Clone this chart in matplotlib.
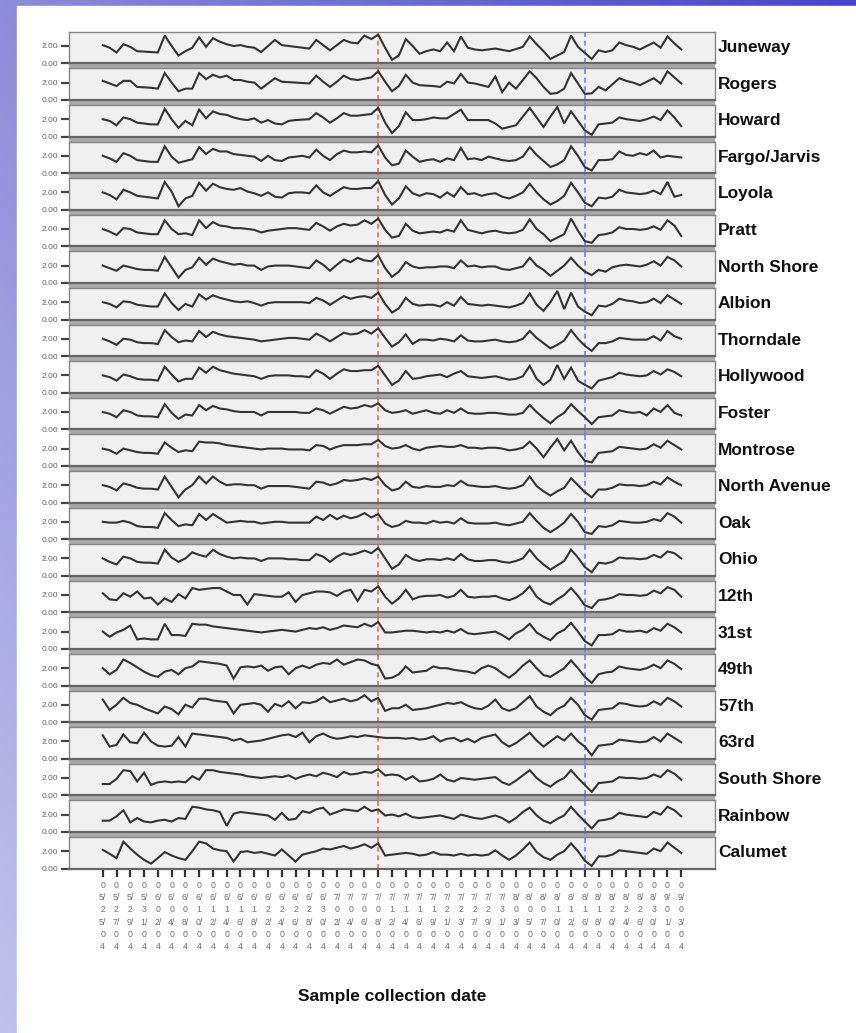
import numpy as np
import matplotlib
matplotlib.use("Agg")
import matplotlib.pyplot as plt
from matplotlib.patches import Rectangle

# ---------------- data ----------------
tick_dates = ["05/25/04", "05/27/04", "05/29/04", "05/31/04", "06/02/04", "06/04/04",
              "06/08/04", "06/10/04", "06/12/04", "06/14/04", "06/16/04", "06/18/04",
              "06/22/04", "06/24/04", "06/26/04", "06/28/04", "06/30/04", "07/02/04",
              "07/04/04", "07/06/04", "07/08/04", "07/12/04", "07/14/04", "07/16/04",
              "07/19/04", "07/21/04", "07/23/04", "07/27/04", "07/29/04", "07/31/04",
              "08/03/04", "08/05/04", "08/07/04", "08/10/04", "08/12/04", "08/16/04",
              "08/18/04", "08/20/04", "08/24/04", "08/26/04", "08/30/04", "09/01/04",
              "09/03/04"]
red_event_sample = 40
blue_event_sample = 70

stations = ["Juneway", "Rogers", "Howard", "Fargo/Jarvis", "Loyola", "Pratt",
            "North Shore", "Albion", "Thorndale", "Hollywood", "Foster", "Montrose",
            "North Avenue", "Oak", "Ohio", "12th", "31st", "49th", "57th", "63rd",
            "South Shore", "Rainbow", "Calumet"]

juneway = [2.1, 1.8, 1.25, 2.2, 1.9, 1.4, 1.35, 1.3, 1.25, 3.2, 2.0, 0.9, 1.4, 1.8, 3.0, 1.9, 2.9,
           2.5, 2.2, 2.0, 2.1, 1.9, 1.8, 1.3, 2.0, 2.7, 2.1, 2.0, 1.9, 1.8, 1.7, 2.7, 2.1, 1.5,
           2.1, 2.7, 2.4, 2.3, 3.2, 2.8, 3.3, 1.8, 0.4, 0.9, 2.8, 2.0, 1.1, 1.4, 1.6, 1.4, 2.4,
           1.4, 3.1, 1.8, 1.6, 1.5, 1.6, 1.7, 1.55, 1.4, 1.65, 1.9, 3.1, 2.2, 1.4, 0.5, 0.9, 1.3,
           3.2, 1.9, 1.2, 0.5, 1.5, 1.3, 1.5, 2.4, 2.1, 1.9, 1.6, 2.0, 2.4, 1.8, 3.1, 2.3, 1.6]
rogers = [2.2, 1.9, 1.6, 2.2, 2.2, 1.5, 1.45, 1.4, 1.3, 3.1, 2.0, 1.0, 1.3, 1.3, 3.1, 2.4, 2.9,
          2.6, 2.8, 2.3, 2.3, 2.1, 2.0, 1.3, 1.9, 2.5, 2.1, 2.05, 2.0, 1.95, 1.9, 2.8, 2.1, 1.5,
          2.1, 2.8, 2.4, 2.3, 2.45, 2.6, 3.3, 2.1, 1.0, 1.6, 2.9, 2.0, 1.7, 1.65, 1.6, 1.5, 2.1,
          1.9, 3.0, 2.0, 1.9, 1.7, 1.5, 2.7, 0.9, 2.0, 1.3, 2.3, 3.3, 2.5, 1.5, 0.7, 0.8, 1.3,
          3.1, 1.9, 0.7, 0.75, 1.5, 1.1, 1.8, 2.5, 2.2, 2.0, 1.7, 2.1, 2.5, 1.9, 3.3, 2.6, 1.9]
howard = [2.0, 1.8, 1.3, 2.2, 2.0, 1.6, 1.5, 1.4, 1.4, 3.2, 2.0, 1.0, 1.8, 1.3, 3.1, 2.1, 2.9,
          2.6, 2.5, 2.2, 2.0, 1.9, 2.1, 1.6, 1.9, 1.5, 1.4, 1.8, 1.9, 1.95, 2.0, 2.7, 2.2, 1.6,
          2.1, 2.7, 2.4, 2.4, 2.5, 2.6, 3.3, 1.6, 0.4, 1.2, 2.8, 1.9, 1.9, 2.0, 2.2, 2.1, 2.1,
          2.6, 3.1, 1.9, 1.9, 1.9, 1.9, 1.5, 0.9, 1.1, 1.3, 2.3, 3.3, 2.2, 1.1, 2.3, 3.4, 1.5,
          2.9, 1.8, 0.7, 0.2, 1.4, 1.5, 1.6, 2.2, 2.0, 1.9, 1.8, 2.0, 2.3, 1.9, 3.0, 2.2, 1.2]
fargo_jarvis = [2.0, 1.7, 1.3, 2.3, 2.0, 1.5, 1.4, 1.3, 1.3, 3.1, 1.9, 1.2, 1.4, 1.6, 3.0, 2.2, 2.8,
                2.5, 2.5, 2.2, 2.1, 2.0, 1.9, 1.4, 2.0, 1.5, 1.4, 1.8, 1.9, 2.0, 1.8, 2.7, 2.0, 1.5,
                2.2, 2.6, 2.4, 2.4, 2.5, 2.4, 3.2, 1.8, 0.9, 1.1, 2.6, 1.9, 1.3, 1.5, 1.6, 1.3, 1.7,
                1.5, 2.9, 1.6, 1.7, 1.5, 1.9, 1.7, 1.5, 1.4, 1.5, 1.9, 3.0, 2.1, 1.4, 0.7, 1.0, 1.5,
                3.1, 2.0, 0.7, 0.3, 1.5, 1.5, 1.6, 2.5, 2.1, 2.0, 2.3, 2.1, 2.6, 1.8, 2.0, 1.9, 1.8]
loyola = [2.0, 1.7, 1.2, 2.3, 2.0, 1.6, 1.5, 1.4, 1.3, 3.2, 2.1, 0.4, 1.3, 1.6, 3.1, 2.2, 3.0,
          2.6, 2.4, 2.3, 2.5, 2.1, 1.9, 1.6, 2.0, 1.5, 1.4, 1.9, 2.0, 2.0, 1.9, 2.8, 2.0, 1.6,
          2.1, 2.6, 2.4, 2.4, 2.5, 2.5, 3.3, 1.7, 0.6, 1.3, 2.7, 1.9, 1.6, 1.9, 1.8, 1.4, 2.0,
          1.5, 2.6, 1.8, 1.9, 1.6, 1.8, 1.9, 1.5, 1.3, 1.6, 2.0, 3.0, 2.0, 1.2, 0.6, 1.0, 1.6,
          3.1, 2.0, 0.8, 0.4, 1.4, 1.3, 1.5, 2.3, 2.0, 1.9, 1.8, 1.9, 2.2, 1.8, 3.2, 1.5, 1.7]
pratt = [2.0, 1.7, 1.3, 2.1, 2.0, 1.6, 1.5, 1.4, 1.4, 3.0, 2.0, 1.4, 1.5, 1.3, 3.0, 2.1, 2.8,
         2.4, 2.3, 2.1, 2.1, 2.0, 1.9, 1.6, 1.8, 1.9, 2.0, 2.1, 2.1, 2.0, 1.9, 2.7, 2.3, 1.8,
         2.3, 2.6, 2.4, 2.5, 3.0, 2.6, 3.2, 1.9, 1.0, 1.2, 2.6, 1.8, 1.5, 1.6, 1.7, 1.6, 1.9,
         1.7, 3.0, 1.9, 1.7, 1.5, 1.7, 1.8, 1.6, 1.5, 1.6, 1.9, 3.1, 2.0, 1.4, 0.6, 1.0, 1.4,
         3.2, 1.8, 0.6, 0.4, 1.3, 1.4, 1.6, 2.2, 2.0, 2.0, 1.9, 2.0, 2.3, 1.9, 3.0, 2.4, 1.2]
north_shore = [2.0, 1.7, 1.4, 2.0, 1.8, 1.6, 1.5, 1.5, 1.4, 3.0, 1.8, 0.6, 1.5, 1.8, 2.9, 2.1, 2.8,
               2.5, 2.3, 2.1, 2.2, 2.0, 2.0, 1.5, 1.9, 2.0, 2.0, 2.0, 1.9, 1.8, 1.7, 2.6, 2.1, 1.4,
               2.1, 2.7, 2.4, 2.9, 2.6, 2.5, 3.2, 1.7, 0.7, 1.3, 2.4, 1.9, 1.7, 1.8, 1.8, 1.9, 1.9,
               1.7, 2.6, 1.9, 2.0, 1.8, 1.9, 1.9, 1.6, 1.5, 1.7, 1.9, 2.9, 2.0, 1.5, 0.8, 1.4, 2.0,
               2.9, 2.0, 1.3, 0.9, 1.5, 1.3, 1.8, 2.0, 2.1, 2.0, 1.9, 2.1, 2.5, 2.0, 3.0, 2.6, 1.9]
albion = [2.0, 1.8, 1.4, 2.1, 2.0, 1.7, 1.6, 1.5, 1.5, 3.0, 1.9, 1.1, 1.8, 1.5, 2.9, 2.3, 2.8,
          2.5, 2.3, 2.1, 2.0, 2.1, 1.9, 1.6, 1.9, 2.0, 2.0, 2.0, 2.0, 2.0, 1.9, 2.5, 2.2, 1.7,
          2.2, 2.7, 2.4, 2.6, 2.7, 2.5, 3.1, 1.8, 0.8, 1.3, 2.5, 1.8, 1.6, 1.7, 1.7, 1.5, 2.0,
          1.6, 2.6, 1.8, 1.7, 1.6, 1.7, 1.6, 1.5, 1.4, 1.6, 1.9, 3.0, 1.7, 1.0, 2.0, 3.3, 1.2,
          3.1, 1.5, 0.9, 0.5, 1.6, 1.5, 1.8, 2.4, 2.2, 2.1, 1.9, 2.0, 2.4, 1.9, 2.8, 2.3, 1.8]
thorndale = [2.0, 1.7, 1.3, 2.0, 1.9, 1.6, 1.5, 1.5, 1.4, 3.0, 2.2, 1.6, 1.8, 1.7, 2.9, 2.2, 2.8,
             2.5, 2.3, 2.2, 2.1, 2.0, 1.9, 1.7, 1.8, 1.9, 2.0, 2.1, 2.1, 2.0, 1.9, 2.6, 2.2, 1.7,
             2.2, 2.7, 2.5, 2.6, 3.0, 2.6, 3.2, 2.1, 1.1, 1.6, 2.5, 1.4, 1.9, 1.9, 1.8, 2.0, 1.9,
             1.7, 2.4, 1.8, 1.7, 1.7, 1.8, 1.9, 1.7, 1.6, 1.7, 2.0, 2.9, 2.1, 1.5, 0.9, 1.3, 1.8,
             3.0, 2.0, 1.2, 0.6, 1.5, 1.5, 1.7, 2.1, 2.0, 1.9, 1.9, 1.9, 2.3, 1.8, 2.9, 2.3, 2.0]
hollywood = [2.0, 1.8, 1.4, 2.1, 1.9, 1.6, 1.5, 1.5, 1.4, 3.0, 2.1, 1.3, 1.6, 1.6, 2.9, 2.3, 3.0,
             2.6, 2.4, 2.2, 2.1, 2.0, 1.9, 1.6, 1.9, 2.0, 2.0, 2.0, 1.9, 1.9, 1.8, 2.6, 2.2, 1.6,
             2.2, 2.7, 2.5, 2.5, 2.6, 2.6, 3.1, 2.0, 0.9, 1.4, 2.5, 1.6, 1.7, 1.9, 2.0, 2.1, 1.8,
             2.2, 2.5, 1.9, 1.8, 1.7, 1.8, 1.9, 1.7, 1.5, 1.6, 1.9, 3.1, 1.6, 0.9, 1.5, 3.2, 1.6,
             2.9, 1.4, 0.9, 0.5, 1.4, 1.6, 1.8, 2.3, 2.1, 2.0, 1.9, 2.0, 2.5, 2.1, 2.7, 2.4, 1.9]
foster = [2.0, 1.8, 1.4, 2.2, 2.0, 1.6, 1.5, 1.5, 1.4, 2.9, 1.9, 1.2, 1.7, 1.6, 2.8, 2.2, 2.7,
          2.4, 2.3, 2.1, 2.0, 2.0, 2.0, 1.6, 2.0, 2.0, 2.0, 2.0, 2.0, 1.9, 1.9, 2.4, 2.2, 1.8,
          2.2, 2.6, 2.4, 2.5, 2.8, 2.6, 3.0, 2.2, 1.9, 2.0, 2.2, 1.8, 2.0, 2.2, 1.9, 1.8, 2.2,
          1.9, 2.4, 1.9, 1.8, 1.8, 1.9, 1.9, 1.8, 1.7, 1.7, 1.9, 2.8, 2.0, 1.3, 0.7, 1.4, 1.9,
          2.9, 2.1, 1.4, 0.6, 1.4, 1.5, 1.6, 2.2, 2.0, 1.9, 2.0, 1.6, 2.4, 2.0, 2.8, 1.9, 1.6]
montrose = [2.0, 1.8, 1.4, 2.0, 1.8, 1.6, 1.5, 1.5, 1.4, 2.7, 2.1, 1.6, 1.8, 1.7, 2.8, 2.7, 2.7,
            2.6, 2.4, 2.3, 2.2, 2.1, 2.0, 1.9, 2.0, 2.0, 2.0, 1.9, 1.9, 1.9, 1.8, 2.4, 2.3, 1.9,
            2.2, 2.4, 2.4, 2.4, 2.5, 2.5, 3.0, 2.3, 2.0, 2.1, 2.4, 2.0, 1.8, 2.1, 2.2, 2.3, 2.2,
            2.2, 2.4, 2.1, 2.1, 2.0, 2.1, 2.1, 2.0, 1.8, 1.9, 2.1, 2.8, 2.0, 1.0, 2.1, 3.1, 1.8,
            2.9, 1.6, 0.6, 0.4, 1.5, 1.6, 1.7, 2.2, 2.1, 2.0, 1.9, 2.0, 2.5, 2.1, 2.9, 2.4, 1.9]
north_avenue = [2.0, 1.8, 1.4, 2.2, 2.0, 1.7, 1.6, 1.6, 1.5, 3.0, 1.8, 0.6, 1.5, 2.0, 3.0, 2.2, 3.0,
                2.4, 2.0, 2.1, 2.1, 2.0, 2.0, 1.6, 1.9, 1.9, 1.9, 1.9, 1.8, 1.7, 1.6, 2.4, 2.3, 2.0,
                2.2, 2.6, 2.5, 2.6, 2.8, 2.6, 3.0, 2.0, 1.4, 1.6, 2.4, 1.8, 1.7, 1.9, 1.8, 1.8, 2.0,
                1.9, 2.5, 2.0, 1.9, 1.8, 1.8, 1.9, 1.7, 1.6, 1.7, 2.0, 3.0, 1.9, 1.3, 0.8, 1.3, 1.7,
                2.8, 2.0, 1.2, 0.6, 1.5, 1.5, 1.7, 2.1, 2.0, 2.0, 1.9, 2.0, 2.4, 2.1, 2.9, 2.4, 2.0]
oak = [2.0, 1.9, 1.9, 2.1, 1.9, 1.5, 1.4, 1.4, 1.3, 3.0, 2.2, 1.5, 1.7, 1.6, 2.9, 2.2, 2.9,
       2.4, 1.9, 2.0, 2.1, 2.0, 2.0, 1.8, 1.9, 2.0, 2.0, 1.9, 1.9, 1.9, 1.9, 2.6, 2.2, 2.8,
       2.3, 2.7, 2.4, 2.6, 3.0, 2.5, 2.9, 1.8, 1.4, 1.6, 2.1, 1.9, 1.9, 1.8, 2.1, 1.9, 2.0,
       1.8, 2.4, 1.9, 1.8, 1.8, 1.8, 1.9, 1.7, 1.6, 1.8, 2.0, 3.0, 2.1, 1.3, 0.8, 1.3, 1.9,
       2.9, 2.0, 0.8, 0.6, 1.5, 1.4, 1.6, 2.1, 2.0, 1.9, 1.9, 2.0, 2.3, 2.1, 3.0, 2.6, 1.9]
ohio = [2.0, 1.6, 1.3, 2.2, 2.0, 1.6, 1.5, 1.5, 1.4, 3.0, 2.1, 1.6, 2.0, 2.7, 2.4, 2.2, 3.0,
        2.5, 2.2, 2.0, 2.1, 2.0, 2.0, 1.7, 2.0, 2.0, 2.0, 1.9, 1.9, 1.8, 1.8, 2.5, 2.2, 1.6,
        2.2, 2.6, 2.4, 2.6, 2.9, 2.6, 3.2, 2.0, 0.8, 1.3, 2.4, 1.9, 1.7, 1.9, 1.9, 1.8, 2.0,
        1.8, 2.5, 1.9, 1.7, 1.7, 1.8, 1.8, 1.6, 1.5, 1.7, 2.0, 3.0, 2.0, 1.3, 0.7, 1.2, 1.7,
        3.0, 2.1, 1.0, 0.4, 1.5, 1.4, 1.6, 2.1, 2.0, 2.0, 1.9, 2.0, 2.4, 2.1, 2.8, 2.6, 2.0]
twelfth = [2.2, 1.5, 1.4, 2.2, 1.8, 2.4, 1.6, 1.7, 0.9, 1.6, 1.2, 2.1, 1.6, 2.8, 2.6, 2.7, 2.8,
           2.8, 2.4, 2.0, 2.0, 0.9, 2.1, 2.0, 1.9, 1.8, 1.8, 2.3, 1.2, 2.0, 2.2, 2.4, 2.4, 2.3,
           1.9, 2.4, 2.6, 1.3, 2.6, 2.4, 3.0, 1.8, 1.0, 1.6, 2.6, 1.5, 1.8, 1.9, 1.9, 2.0, 1.7,
           1.9, 2.6, 1.8, 1.7, 1.8, 1.8, 1.9, 1.6, 1.4, 1.7, 2.2, 3.0, 1.8, 1.2, 0.9, 1.5, 2.0,
           2.8, 1.9, 0.8, 0.5, 1.4, 1.5, 1.7, 2.1, 2.0, 2.0, 1.9, 2.0, 2.5, 2.2, 2.9, 2.6, 1.8]
thirty_first = [2.0, 1.4, 1.9, 2.2, 2.7, 1.1, 1.2, 1.1, 1.1, 2.9, 1.6, 1.6, 1.5, 2.9, 2.8, 2.8, 2.6,
                2.5, 2.4, 2.3, 2.2, 2.1, 2.0, 1.9, 2.0, 2.1, 2.2, 2.1, 2.0, 2.2, 2.4, 2.3, 2.5, 2.2,
                2.4, 2.7, 2.6, 2.5, 2.9, 2.6, 3.1, 1.9, 1.9, 2.0, 2.1, 2.1, 2.0, 1.9, 2.0, 1.9, 2.1,
                1.9, 2.3, 1.8, 1.7, 1.8, 1.9, 2.0, 1.6, 1.1, 1.8, 2.2, 2.9, 1.9, 1.4, 1.0, 1.8, 2.2,
                3.0, 2.0, 0.9, 0.4, 1.6, 1.6, 1.7, 2.2, 2.0, 2.0, 2.1, 1.9, 2.4, 2.1, 2.9, 2.5, 1.9]
forty_ninth = [2.0, 1.3, 1.8, 3.0, 2.6, 2.1, 1.6, 1.2, 1.0, 1.6, 1.8, 1.3, 2.0, 2.2, 2.8, 2.7, 2.6,
               2.5, 2.3, 0.8, 2.1, 2.2, 2.1, 2.3, 1.7, 2.1, 2.2, 1.3, 2.0, 2.3, 2.0, 2.4, 2.6, 2.5,
               3.0, 2.4, 2.7, 3.0, 2.9, 2.5, 2.3, 0.8, 0.9, 1.3, 2.2, 1.5, 1.6, 1.7, 2.2, 2.0, 2.0,
               1.8, 1.7, 1.6, 1.4, 2.0, 2.3, 2.0, 1.4, 0.9, 1.5, 2.3, 2.9, 2.0, 1.2, 1.0, 1.5, 2.0,
               2.9, 2.0, 1.0, 0.3, 1.3, 1.5, 1.6, 2.2, 2.0, 1.9, 1.8, 2.0, 2.4, 2.0, 2.9, 2.5, 1.9]
fifty_seventh = [2.6, 1.4, 2.0, 2.8, 2.2, 2.0, 1.6, 1.3, 1.0, 1.8, 1.5, 0.9, 2.0, 1.7, 2.7, 2.7, 2.5,
                 2.4, 2.3, 1.0, 2.0, 2.1, 2.2, 2.0, 1.2, 2.1, 1.8, 2.4, 1.6, 2.3, 2.2, 2.4, 2.9, 2.3,
                 2.5, 2.7, 2.4, 2.6, 3.1, 2.4, 2.8, 1.3, 1.6, 1.6, 2.0, 1.4, 1.5, 1.6, 1.8, 2.0, 2.2,
                 2.1, 2.3, 1.9, 1.6, 1.5, 1.9, 2.6, 1.6, 1.3, 1.6, 2.3, 3.0, 1.8, 1.2, 0.8, 1.5, 1.9,
                 2.8, 2.0, 0.8, 0.3, 1.4, 1.5, 1.6, 2.2, 2.1, 1.9, 1.8, 1.9, 2.4, 2.0, 2.8, 2.4, 1.8]
sixty_third = [2.7, 1.4, 1.6, 2.8, 1.9, 1.8, 3.0, 2.0, 1.5, 1.4, 1.5, 2.5, 1.4, 2.9, 2.8, 2.7, 2.6,
               2.5, 2.4, 2.1, 2.3, 1.9, 2.0, 2.1, 2.3, 2.5, 2.7, 2.8, 2.5, 3.0, 1.9, 2.6, 2.9, 2.5,
               2.3, 2.4, 2.6, 2.5, 2.7, 2.6, 2.5, 2.4, 2.4, 2.4, 2.3, 2.4, 2.2, 2.3, 2.6, 2.0, 2.3,
               2.4, 2.0, 2.3, 1.9, 2.4, 2.6, 2.8, 1.9, 1.4, 1.8, 2.4, 3.0, 2.1, 1.4, 2.0, 2.6, 2.1,
               2.9, 2.0, 1.4, 0.4, 1.5, 1.6, 1.7, 2.2, 2.1, 2.0, 1.9, 2.0, 2.5, 2.0, 2.9, 2.4, 1.9]
south_shore = [1.3, 1.3, 1.9, 2.9, 2.8, 1.6, 2.6, 1.2, 1.5, 1.6, 1.5, 1.6, 1.5, 2.2, 1.8, 2.9, 2.9,
               2.7, 2.6, 2.5, 2.4, 2.2, 2.1, 2.0, 2.1, 2.2, 2.1, 2.3, 1.9, 2.2, 2.4, 2.2, 2.6, 2.4,
               2.1, 2.7, 2.4, 2.5, 2.7, 2.6, 3.0, 2.3, 2.4, 2.3, 1.8, 2.2, 1.6, 1.7, 1.9, 2.4, 1.8,
               1.6, 2.0, 1.9, 1.8, 1.9, 2.0, 2.1, 1.5, 1.2, 1.7, 2.3, 2.9, 2.0, 1.4, 1.0, 1.6, 2.0,
               2.9, 2.0, 1.2, 0.4, 1.4, 1.5, 1.6, 2.1, 2.0, 2.0, 1.9, 2.0, 2.4, 2.1, 2.9, 2.5, 1.8]
rainbow = [1.3, 1.3, 1.8, 2.5, 1.1, 1.6, 1.2, 1.1, 1.3, 1.4, 1.2, 1.6, 1.5, 2.9, 2.8, 2.6, 2.5,
           2.3, 0.7, 2.1, 2.3, 2.2, 2.1, 2.0, 1.9, 1.4, 2.2, 1.4, 1.5, 2.4, 2.2, 2.6, 2.8, 2.0,
           2.3, 2.6, 2.5, 2.4, 2.9, 2.4, 2.6, 1.9, 2.0, 1.8, 2.1, 1.7, 1.6, 1.7, 1.8, 1.9, 1.7,
           1.5, 2.0, 1.8, 1.6, 1.5, 1.7, 1.9, 1.6, 1.1, 1.6, 2.3, 2.8, 1.9, 1.3, 1.0, 1.5, 1.9,
           2.9, 2.0, 1.2, 0.4, 1.3, 1.4, 1.6, 2.2, 2.0, 1.9, 1.8, 1.7, 2.3, 2.0, 2.9, 2.5, 1.8]
calumet = [2.15, 1.7, 1.2, 3.1, 2.3, 1.6, 1.0, 0.56, 1.2, 1.9, 1.5, 1.2, 1.0, 2.0, 3.1, 2.9, 2.3,
           2.1, 2.0, 0.8, 1.9, 2.0, 1.8, 1.9, 1.7, 1.5, 2.2, 1.5, 0.8, 1.6, 1.8, 2.0, 2.3, 2.2,
           2.4, 2.6, 2.3, 2.5, 2.8, 2.4, 2.9, 1.5, 1.6, 1.7, 1.8, 1.7, 1.5, 1.6, 1.9, 1.6, 1.6,
           1.5, 1.7, 1.5, 1.6, 1.5, 1.6, 2.1, 1.5, 1.0, 1.5, 2.2, 3.0, 1.9, 1.3, 1.0, 1.6, 2.0,
           2.9, 2.0, 0.9, 0.3, 1.4, 1.4, 1.6, 2.1, 2.0, 1.9, 1.8, 1.7, 2.3, 2.0, 3.0, 2.4, 1.8]

series = [juneway, rogers, howard, fargo_jarvis, loyola, pratt, north_shore, albion,
          thorndale, hollywood, foster, montrose, north_avenue, oak, ohio, twelfth,
          thirty_first, forty_ninth, fifty_seventh, sixty_third, south_shore, rainbow, calumet]

# ---------------- layout ----------------
W, H = 856, 1033
fig = plt.figure(figsize=(W / 100, H / 100), dpi=100)


def fx(px):
    return px / W


def fy(py):
    return 1 - py / H


# slide background gradient
bg = fig.add_axes([0, 0, 1, 1], zorder=-10)
bg.set_axis_off()
gx = np.linspace(0, 1, 200)[None, :, None]
gy = np.linspace(0, 1, 240)[:, None, None]
tl = np.array([0.55, 0.55, 0.86])
tr = np.array([0.27, 0.27, 0.80])
bl = np.array([0.76, 0.76, 0.93])
grad = np.clip(tl + (tr - tl) * gx + (bl - tl) * gy, 0, 1)
bg.imshow(grad, extent=[0, 1, 0, 1], aspect="auto", origin="upper")
bg.add_patch(Rectangle((fx(17), 0), 1 - fx(17), fy(6), color="white", transform=bg.transAxes))
bg.set_xlim(0, 1)
bg.set_ylim(0, 1)

LEFT, RIGHT = 69, 715
TOP0, PITCH, PH = 31.7, 36.6, 31.6
n = len(stations)
BOTTOM = TOP0 + PITCH * (n - 1) + PH
x = np.arange(len(juneway))
XLIM = (-4.9, 88.9)

band = fig.add_axes([fx(LEFT), fy(BOTTOM), fx(RIGHT - LEFT), (BOTTOM - TOP0) / H], zorder=0)
band.set_facecolor("#a9a9a9")
band.set_xlim(*XLIM)
band.set_ylim(0, 1)
band.set_xticks([])
band.set_yticks([])
for s in band.spines.values():
    s.set_visible(False)
band.axvline(red_event_sample, color="#e86a6a", lw=1.2, ls=(0, (3, 2.2)))
band.axvline(blue_event_sample, color="#7a7aff", lw=1.2, ls=(0, (3, 2.2)))

tick_pos = np.arange(0, len(juneway), 2)
tick_lab = ["\n".join([d[0], d[1:3], d[3], d[4:6], d[6], d[7]]) for d in tick_dates]

for i, (name, vals) in enumerate(zip(stations, series)):
    top = TOP0 + PITCH * i
    ax = fig.add_axes([fx(LEFT), fy(top + PH), fx(RIGHT - LEFT), PH / H], zorder=1)
    ax.set_facecolor("#f0f0f0")
    ax.plot(x, vals, color="#333333", lw=1.5, solid_joinstyle="miter", zorder=3)
    ax.axvline(red_event_sample, color="#e86a6a", lw=1.2, ls=(0, (3, 2.2)), zorder=2)
    ax.axvline(blue_event_sample, color="#7a7aff", lw=1.2, ls=(0, (3, 2.2)), zorder=2)
    ax.set_xlim(*XLIM)
    ax.set_ylim(0, 3.65)
    ax.set_yticks([0, 2])
    ax.set_yticklabels(["0.00", "2.00"], fontsize=6, color="#666666", family="Liberation Sans")
    ax.tick_params(axis="y", direction="out", length=6, width=1.6, color="#444444", pad=1.5)
    for s in ax.spines.values():
        s.set_color("#858585")
        s.set_linewidth(1.0)
    ax.spines["bottom"].set_color("#666666")
    ax.spines["bottom"].set_linewidth(1.6)
    if i == n - 1:
        ax.set_xticks(tick_pos)
        ax.set_xticklabels(tick_lab, fontsize=6.3, color="#707070", linespacing=1.46,
                           family="Liberation Sans", va="top")
        ax.tick_params(axis="x", direction="out", length=6, width=1.6, color="#333333", pad=3)
    else:
        ax.set_xticks([])
    ax.text(1 + 3 / (RIGHT - LEFT), 0.5, name, transform=ax.transAxes, ha="left", va="center",
            fontsize=12.5, fontweight="bold", family="Liberation Sans", color="#111111")

fig.text(fx(392), fy(997), "Sample collection date", ha="center", va="center",
         fontsize=12.5, fontweight="bold", family="Liberation Sans", color="#111111")

fig.savefig("out.png", dpi=100)
